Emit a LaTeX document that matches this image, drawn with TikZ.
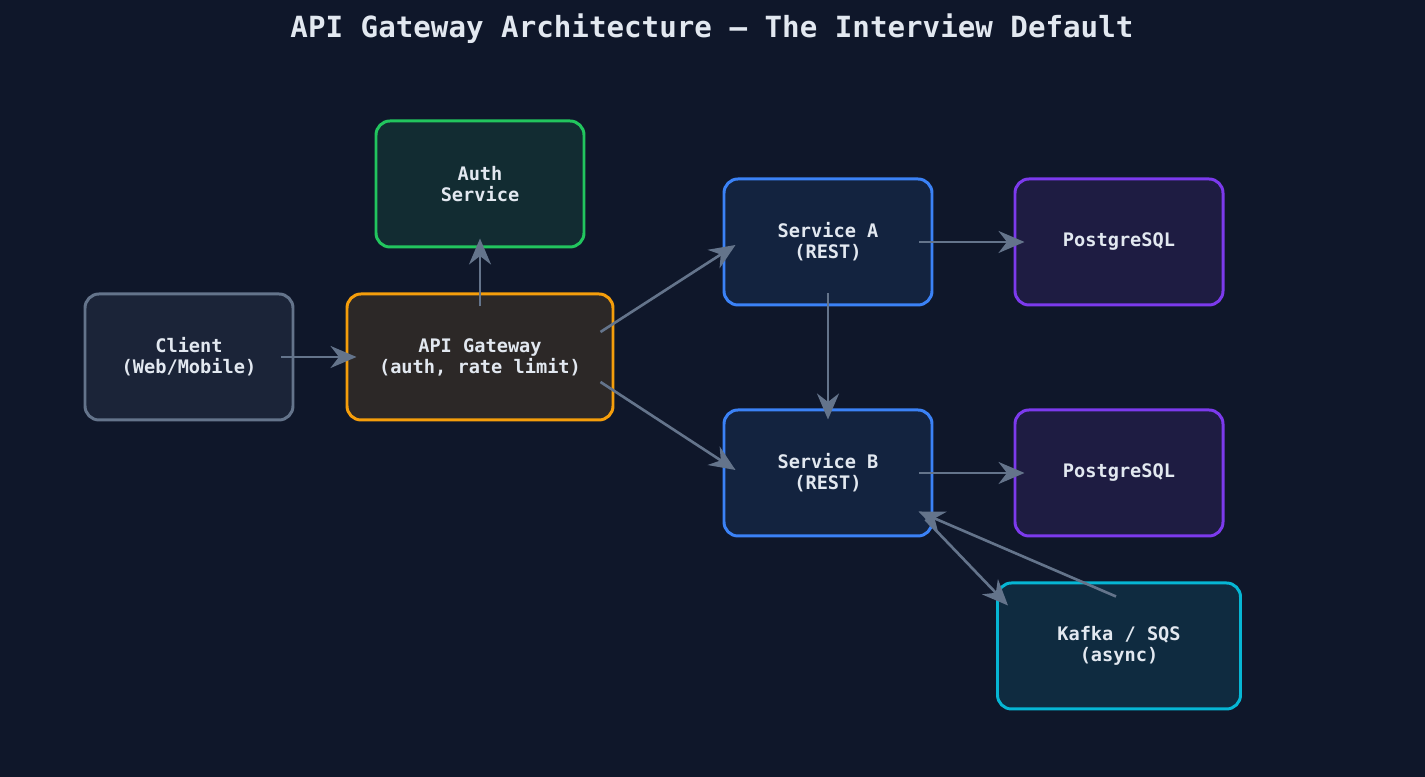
\documentclass[tikz,border=0pt]{standalone}
\usepackage{fontspec}
\setmonofont{DejaVu Sans Mono}
\usetikzlibrary{arrows.meta}
\definecolor{bgc}{HTML}{0F172A}
\definecolor{txtc}{HTML}{E2E8F0}
\definecolor{arrc}{HTML}{64748B}
\tikzset{%
    box/.style={draw, line width=0.85pt, rounded corners=0.14cm, minimum width=2.08cm,
      minimum height=1.26cm, align=center, text=txtc, font=\ttfamily\bfseries\fontsize{5.3}{6}\selectfont},
    flow/.style={draw=arrc, line width=0.75pt, -{Stealth[length=2.6mm,width=2.2mm]}}
}
\begin{document}
\begin{tikzpicture}
            % background and title
            \fill[bgc] (0,0) rectangle (14.25,7.77);
            \node[text=txtc, font=\ttfamily\bfseries\fontsize{8.3}{10}\selectfont] (title) at (7.12,7.48){API Gateway Architecture — The Interview Default};

            % boxes
            \node[box, draw=arrc, fill={rgb,255:red,27;green,36;blue,56}] (cl) at (1.89,4.2){Client\\(Web/Mobile)};
            \node[box, minimum width=2.66cm, draw={rgb,255:red,245;green,158;blue,11}, fill={rgb,255:red,44;green,40;blue,39}] (gw) at (4.8,4.2){API Gateway\\(auth, rate limit)};
            \node[box, draw={rgb,255:red,34;green,197;blue,94}, fill={rgb,255:red,18;green,44;blue,50}] (auth) at (4.8,5.93){Auth\\Service};
            \node[box, draw={rgb,255:red,59;green,130;blue,246}, fill={rgb,255:red,19;green,35;blue,63}] (sa) at (8.28,5.35){Service A\\(REST)};
            \node[box, draw={rgb,255:red,59;green,130;blue,246}, fill={rgb,255:red,19;green,35;blue,63}] (sb) at (8.28,3.04){Service B\\(REST)};
            \node[box, draw={rgb,255:red,124;green,58;blue,237}, fill={rgb,255:red,30;green,28;blue,66}] (pg1) at (11.19,5.35){PostgreSQL};
            \node[box, draw={rgb,255:red,124;green,58;blue,237}, fill={rgb,255:red,30;green,28;blue,66}] (pg2) at (11.19,3.04){PostgreSQL};
            \node[box, minimum width=2.43cm, draw={rgb,255:red,6;green,182;blue,212}, fill={rgb,255:red,15;green,43;blue,64}] (kf) at (11.19,1.31){Kafka / SQS\\(async)};

            % connectors
            \draw[flow] ([xshift=-0.13cm]cl.east) -- ([xshift=0.11cm]gw.west);
            \draw[flow] ([yshift=-0.14cm]gw.north) -- ([yshift=0.1cm]auth.south);
            \draw[flow] ([shift={(-0.14,0.25)}]gw.east) -- ([shift={(0.13,-0.03)}]sa.west);
            \draw[flow] ([shift={(-0.14,-0.25)}]gw.east) -- ([shift={(0.13,0.03)}]sb.west);
            \draw[flow] ([xshift=-0.14cm]sa.east) -- ([xshift=0.11cm]pg1.west);
            \draw[flow] ([yshift=0.13cm]sa.south) -- ([yshift=-0.11cm]sb.north);
            \draw[flow] ([xshift=-0.14cm]sb.east) -- ([xshift=0.11cm]pg2.west);
            \draw[flow] ([shift={(-0.03,-0.15)}]kf.north) -- ([shift={(-0.15,0.26)}]sb.south east);
            \draw[flow] ([shift={(-0.08,0.18)}]sb.south east) -- ([shift={(0.12,-0.24)}]kf.north west);
\end{tikzpicture}
\end{document}
